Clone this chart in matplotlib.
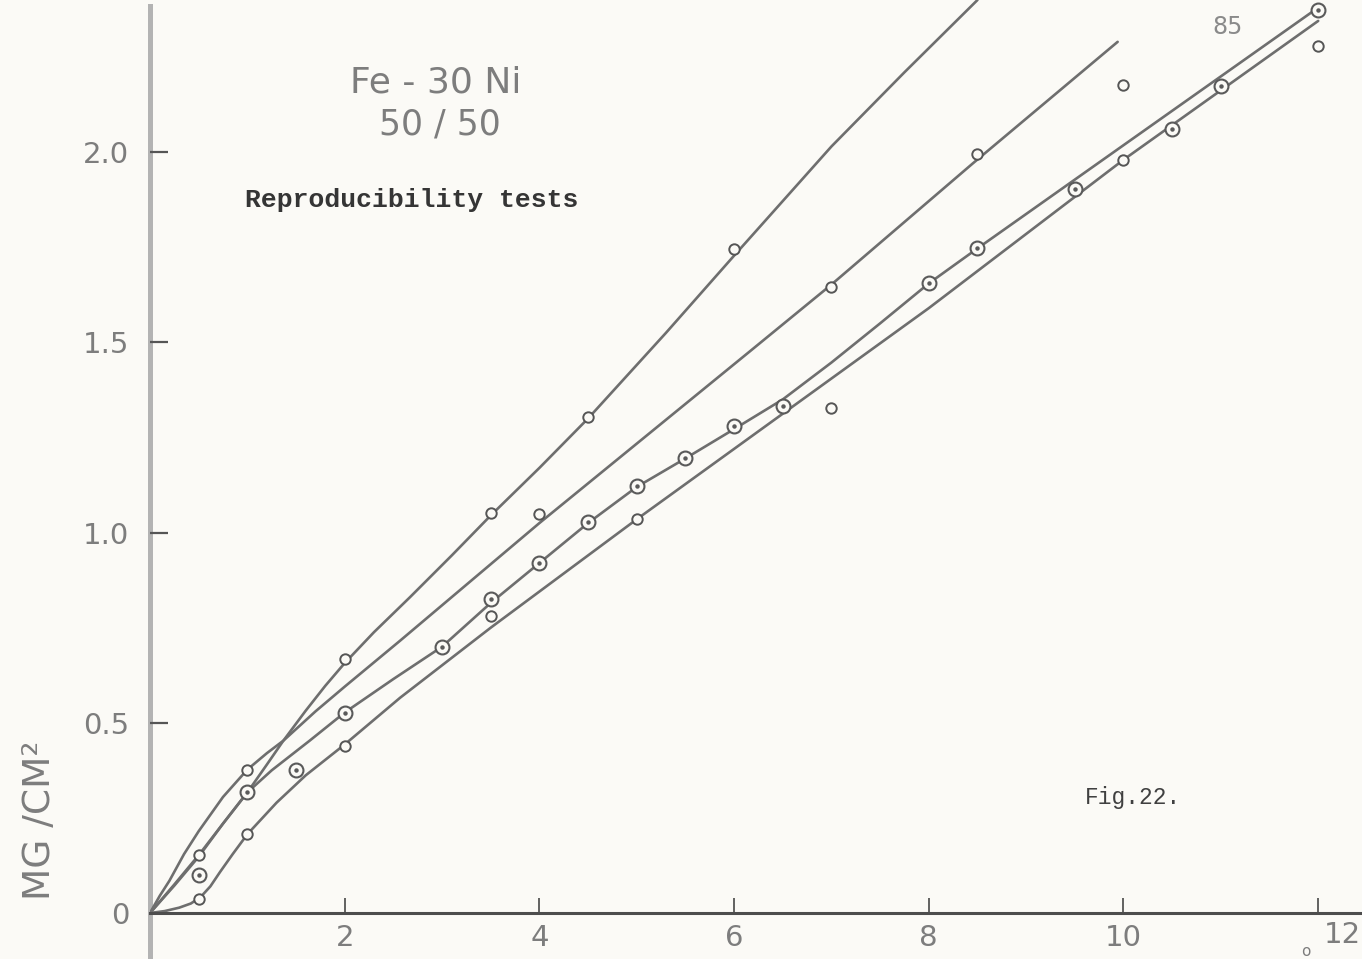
import matplotlib.pyplot as plt

# Fe-30Ni, 50/50 atmosphere: weight gain (mg/cm^2) against time, four repeat runs
curve_a_x = [0, 0.25, 0.5, 0.75, 1.0, 1.2, 1.37, 1.6, 1.8, 2.0, 2.3, 2.67, 3.1, 3.5,
             4.0, 4.5, 5.3, 6.0, 7.0, 7.75, 8.5]
curve_a_y = [0, 0.075, 0.152, 0.235, 0.317, 0.39, 0.453, 0.532, 0.597, 0.657, 0.738, 0.83, 0.94, 1.045,
             1.17, 1.30, 1.525, 1.728, 2.015, 2.21, 2.40]

curve_b_x = [0, 0.1, 0.2, 0.35, 0.5, 0.75, 1.0, 1.2, 1.37, 1.7, 2.0, 2.57, 4.0, 6.16, 7.0, 8.45, 9.94]
curve_b_y = [0, 0.045, 0.085, 0.155, 0.215, 0.305, 0.377, 0.42, 0.453, 0.53, 0.595, 0.716, 1.025, 1.476, 1.652, 1.97, 2.29]

curve_c_x = [0, 0.25, 0.5, 0.75, 1.0, 1.25, 1.64, 2.0, 2.5, 3.0, 3.5, 4.0, 4.5, 5.0, 5.5, 6.0, 6.5,
             7.0, 7.5, 8.0, 8.5, 12.0]
curve_c_y = [0, 0.072, 0.148, 0.235, 0.317, 0.375, 0.453, 0.527, 0.615, 0.70, 0.815, 0.92, 1.025, 1.12, 1.195, 1.272, 1.35,
             1.447, 1.55, 1.655, 1.747, 2.38]

curve_d_x = [0, 0.15, 0.3, 0.42, 0.52, 0.62, 0.72, 0.85, 1.0, 1.3, 1.6, 2.0, 2.57, 3.5, 5.0, 6.0, 7.0, 8.0, 10.0, 12.0]
curve_d_y = [0, 0.005, 0.014, 0.025, 0.042, 0.07, 0.108, 0.155, 0.207, 0.29, 0.362, 0.443, 0.566, 0.75, 1.035, 1.22, 1.405, 1.59, 1.98, 2.345]

# plain circles
open_x = [0.5, 0.5, 1.0, 1.0, 2.0, 2.0, 3.5, 3.5, 4.0, 4.5, 5.0, 6.0, 7.0, 7.0, 8.5, 10.0, 10.0, 12.0]
open_y = [0.152, 0.037, 0.377, 0.207, 0.668, 0.44, 1.051, 0.78, 1.048, 1.303, 1.036, 1.746, 1.646, 1.327, 1.995, 2.176, 1.98, 2.28]

# dotted circles
dot_x = [0.5, 1.0, 1.5, 2.0, 3.0, 3.5, 4.0, 4.5, 5.0, 5.5, 6.0, 6.5, 8.0, 8.5, 9.5, 10.5, 11.0, 12.0]
dot_y = [0.10, 0.317, 0.375, 0.527, 0.70, 0.826, 0.92, 1.028, 1.122, 1.195, 1.279, 1.332, 1.655, 1.747, 1.904, 2.06, 2.175, 2.375]

x_ticks = [2, 4, 6, 8, 10, 12]
x_labels = ['2', '4', '6', '8', '10', '']
y_ticks = [0, 0.5, 1.0, 1.5, 2.0]
y_labels = ['0', '0.5', '1.0', '1.5', '2.0']

paper = '#fbfaf6'
ink = '#6e6e6e'
lettering = '#7d7d7d'
letter_font = ['DejaVu Sans']
type_font = ['Liberation Mono', 'DejaVu Sans Mono']

fig = plt.figure(figsize=(13.62, 9.59), dpi=100, facecolor=paper)
ax = fig.add_axes([150 / 1362, 46 / 959, 1212 / 1362, 913 / 959])
ax.set_facecolor(paper)
ax.set_xlim(0, 12.45)
ax.set_ylim(0, 2.40)

for cx, cy in [(curve_a_x, curve_a_y), (curve_b_x, curve_b_y),
               (curve_c_x, curve_c_y), (curve_d_x, curve_d_y)]:
    ax.plot(cx, cy, color=ink, lw=1.9, solid_joinstyle='round',
            solid_capstyle='round', zorder=2)

ax.plot(open_x, open_y, 'o', ms=7.5, mfc=paper, mec='#555555', mew=1.4, zorder=3)
ax.plot(dot_x, dot_y, 'o', ms=10, mfc=paper, mec='#5a5a5a', mew=1.5, zorder=3)
ax.plot(dot_x, dot_y, 'o', ms=2.2, color='#5a5a5a', zorder=4)

# axes drawn like the ruled lines of the sheet
for side in ['top', 'right', 'left']:
    ax.spines[side].set_visible(False)
ax.spines['bottom'].set_color('#4d4d4d')
ax.spines['bottom'].set_linewidth(2.2)
ax.axvline(0, ymin=-0.06, ymax=0.993, color='#b3b3b3', lw=3.6,
           clip_on=False, zorder=1)

ax.set_xticks(x_ticks)
ax.set_xticklabels(x_labels)
ax.set_yticks(y_ticks)
ax.set_yticklabels(y_labels)
ax.tick_params(axis='x', direction='in', length=11, width=1.3, color='#555555',
               pad=8, labelsize=21, labelcolor=lettering)
ax.tick_params(axis='y', direction='in', length=13, width=1.6, color='#555555',
               pad=15, labelsize=21, labelcolor=lettering)
for lab in ax.get_xticklabels() + ax.get_yticklabels():
    lab.set_family(letter_font)

ax.text(12.25, -0.058, '12', fontsize=21, color=lettering, family=letter_font,
        ha='center', va='center', clip_on=False)
ax.text(11.87, -0.1, 'o', fontsize=11, color=lettering, family=letter_font,
        ha='center', va='center', clip_on=False)

fig.text(40 / 1362, 1 - 820 / 959, 'MG /CM²', rotation=90, fontsize=27,
         color=lettering, family=letter_font, ha='center', va='center')

ax.text(2.93, 2.183, 'Fe - 30 Ni', fontsize=26, color=lettering, family=letter_font,
        ha='center', va='center')
ax.text(2.98, 2.073, '50 / 50', fontsize=25, color=lettering, family=letter_font,
        ha='center', va='center')
ax.text(0.975, 1.874, 'Reproducibility tests', fontsize=19, color='#353535',
        family=type_font, fontweight='bold', ha='left', va='center')
ax.text(9.6, 0.304, 'Fig.22.', fontsize=16.5, color='#404040',
        family=type_font, ha='left', va='center')
ax.text(11.07, 2.33, '85', fontsize=17, color='#8a8a8a', family=letter_font,
        ha='center', va='center')

fig.savefig('out.png', dpi=100, facecolor=paper)
